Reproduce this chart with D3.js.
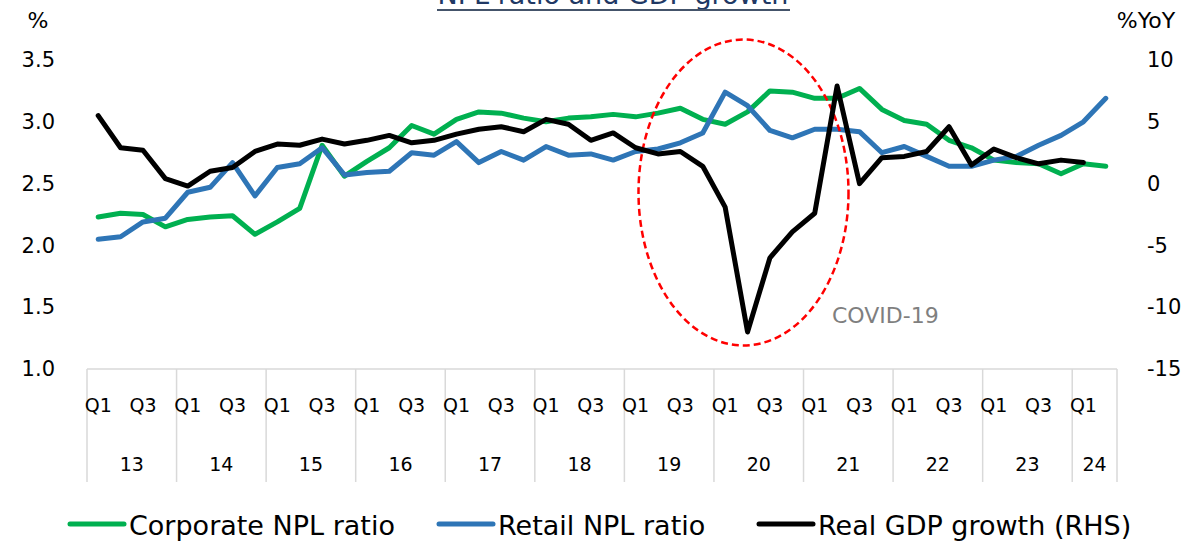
<!DOCTYPE html>
<html>
<head>
<meta charset="utf-8">
<script src="https://cdn.jsdelivr.net/npm/d3@7"></script>
<style>
  html, body { margin: 0; padding: 0; background: #fff; }
  svg { display: block; font-family: "DejaVu Sans", "Noto Sans", sans-serif; }
</style>
</head>
<body>
<svg id="chart" width="1203" height="546"></svg>
<script>
// ---- Data ----
const years = ["13","14","15","16","17","18","19","20","21","22","23","24"];
const quartersPerYear = [4,4,4,4,4,4,4,4,4,4,4,2];
const quarterNames = ["Q1","Q2","Q3","Q4"];
const leftTicks = [1.0, 1.5, 2.0, 2.5, 3.0, 3.5];
const rightTicks = [-15, -10, -5, 0, 5, 10];

const corporateNPL = [2.23,2.26,2.25,2.15,2.21,2.23,2.24,2.09,2.19,2.30,2.81,2.56,2.68,2.79,2.97,2.90,
  3.02,3.08,3.07,3.03,3.00,3.03,3.04,3.06,3.04,3.07,3.11,3.02,2.98,3.08,3.25,3.24,3.19,3.19,3.27,3.10,
  3.01,2.98,2.85,2.79,2.69,2.67,2.66,2.58,2.66,2.64];
const retailNPL = [2.05,2.07,2.19,2.22,2.43,2.47,2.67,2.40,2.63,2.66,2.79,2.57,2.59,2.60,2.75,2.73,
  2.84,2.67,2.76,2.69,2.80,2.73,2.74,2.69,2.76,2.78,2.83,2.91,3.24,3.13,2.93,2.87,2.94,2.94,2.92,2.75,
  2.80,2.72,2.64,2.64,2.69,2.72,2.81,2.89,3.00,3.19];
const gdpGrowth = [5.5,2.9,2.7,0.4,-0.2,1.0,1.3,2.6,3.2,3.1,3.6,3.2,3.5,3.9,3.3,3.5,4.0,4.4,4.6,4.2,
  5.2,4.8,3.5,4.1,2.9,2.4,2.6,1.4,-1.9,-12.0,-6.0,-3.9,-2.4,7.9,0.0,2.1,2.2,2.6,4.6,1.5,2.8,2.1,1.6,1.9,1.7];

const seriesNames = ["Corporate NPL ratio", "Retail NPL ratio", "Real GDP growth (RHS)"];
const seriesColors = ["#00B050", "#2E75B6", "#000000"];

// ---- Build quarter keys ----
const quarters = [];
years.forEach((y, yi) => {
  for (let q = 0; q < quartersPerYear[yi]; q++) quarters.push({ key: y + quarterNames[q], year: y, q: quarterNames[q] });
});
const qKeys = quarters.map(d => d.key);

// ---- Layout ----
const svg = d3.select("#chart");
const plotL = 87, plotR = 1117, plotT = 60, plotB = 369;

const x = d3.scaleBand().domain(qKeys).range([plotL, plotR]).padding(0);
const cx = k => x(k) + x.bandwidth() / 2;
const yL = d3.scaleLinear().domain([1.0, 3.5]).range([plotB, plotT]);
const yR = d3.scaleLinear().domain([-15, 10]).range([plotB, plotT]);

// Title (clipped at the top, as in the original)
svg.append("text")
  .attr("x", 613).attr("y", 4)
  .attr("text-anchor", "middle")
  .attr("font-size", 27)
  .attr("fill", "#203864")
  .text("NPL ratio and GDP growth");
svg.append("line")
  .attr("x1", 437).attr("x2", 790).attr("y1", 10).attr("y2", 10)
  .attr("stroke", "#44546A").attr("stroke-width", 2);

// Unit labels
svg.append("text").attr("x", 38).attr("y", 28).attr("text-anchor", "middle")
  .attr("font-size", 22).attr("fill", "#000").text("%");
svg.append("text").attr("x", 1146).attr("y", 28).attr("text-anchor", "middle")
  .attr("font-size", 22).attr("fill", "#000").text("%YoY");

// Left axis
const gL = svg.append("g").attr("transform", `translate(${plotL},0)`)
  .call(d3.axisLeft(yL).tickValues(leftTicks).tickFormat(d3.format(".1f")).tickSize(0).tickPadding(32));
gL.select(".domain").remove();
gL.selectAll("text").attr("font-size", 21).attr("font-family", "DejaVu Sans").attr("fill", "#000");

// Right axis
const gR = svg.append("g").attr("transform", `translate(${plotR},0)`)
  .call(d3.axisRight(yR).tickValues(rightTicks).tickFormat(d => String(d)).tickSize(0).tickPadding(30));
gR.select(".domain").remove();
gR.selectAll("text").attr("font-size", 21).attr("font-family", "DejaVu Sans").attr("fill", "#000");

// X axis line
svg.append("line").attr("x1", plotL).attr("x2", plotR).attr("y1", plotB).attr("y2", plotB)
  .attr("stroke", "#D9D9D9").attr("stroke-width", 1.5);

// Year dividers
const yearStarts = [];
let idx = 0;
years.forEach((y, yi) => { yearStarts.push({ year: y, first: qKeys[idx], last: qKeys[idx + quartersPerYear[yi] - 1] }); idx += quartersPerYear[yi]; });
const dividerXs = yearStarts.map(d => x(d.first)).concat([x(yearStarts[yearStarts.length - 1].last) + x.bandwidth()]);
svg.append("g").selectAll("line").data(dividerXs).join("line")
  .attr("x1", d => d).attr("x2", d => d).attr("y1", plotB).attr("y2", 482)
  .attr("stroke", "#D9D9D9").attr("stroke-width", 1.5);

// Quarter labels (Q1, Q3)
const gX = svg.append("g").attr("transform", `translate(0,${plotB})`)
  .call(d3.axisBottom(x).tickSize(0).tickPadding(30)
    .tickFormat(k => { const q = k.slice(-2); return (q === "Q1" || q === "Q3") ? q : ""; }));
gX.select(".domain").remove();
gX.selectAll("text").attr("font-size", 19).attr("font-family", "DejaVu Sans").attr("fill", "#000");

// Year labels
svg.append("g").selectAll("text").data(yearStarts).join("text")
  .attr("x", d => (x(d.first) + x(d.last) + x.bandwidth()) / 2)
  .attr("y", 471)
  .attr("text-anchor", "middle")
  .attr("font-size", 19).attr("fill", "#000")
  .text(d => d.year);

// Lines
const lineL = d3.line().x((d, i) => cx(qKeys[i])).y(d => yL(d));
const lineR = d3.line().x((d, i) => cx(qKeys[i])).y(d => yR(d));

svg.append("path").datum(corporateNPL).attr("d", lineL)
  .attr("fill", "none").attr("stroke", seriesColors[0]).attr("stroke-width", 5)
  .attr("stroke-linejoin", "round").attr("stroke-linecap", "round");
svg.append("path").datum(retailNPL).attr("d", lineL)
  .attr("fill", "none").attr("stroke", seriesColors[1]).attr("stroke-width", 5)
  .attr("stroke-linejoin", "round").attr("stroke-linecap", "round");

// COVID ellipse
svg.append("ellipse")
  .attr("cx", 743.5).attr("cy", 192.5).attr("rx", 105).attr("ry", 153)
  .attr("fill", "none").attr("stroke", "#FF0000").attr("stroke-width", 2.5)
  .attr("stroke-dasharray", "7,4");

svg.append("path").datum(gdpGrowth).attr("d", lineR)
  .attr("fill", "none").attr("stroke", seriesColors[2]).attr("stroke-width", 5)
  .attr("stroke-linejoin", "round").attr("stroke-linecap", "round");

// COVID-19 label
svg.append("text").attr("x", 832).attr("y", 323)
  .attr("font-size", 22).attr("fill", "#7F7F7F").text("COVID-19");

// Legend
const legendItems = [
  { x1: 70, x2: 124, tx: 129 },
  { x1: 439, x2: 493, tx: 498 },
  { x1: 759, x2: 813, tx: 818 }
];
const lg = svg.append("g");
legendItems.forEach((d, i) => {
  lg.append("line").attr("x1", d.x1).attr("x2", d.x2).attr("y1", 524).attr("y2", 524)
    .attr("stroke", seriesColors[i]).attr("stroke-width", 5).attr("stroke-linecap", "round");
  lg.append("text").attr("x", d.tx).attr("y", 535)
    .attr("font-size", 27).attr("fill", "#000").text(seriesNames[i]);
});
</script>
</body>
</html>
